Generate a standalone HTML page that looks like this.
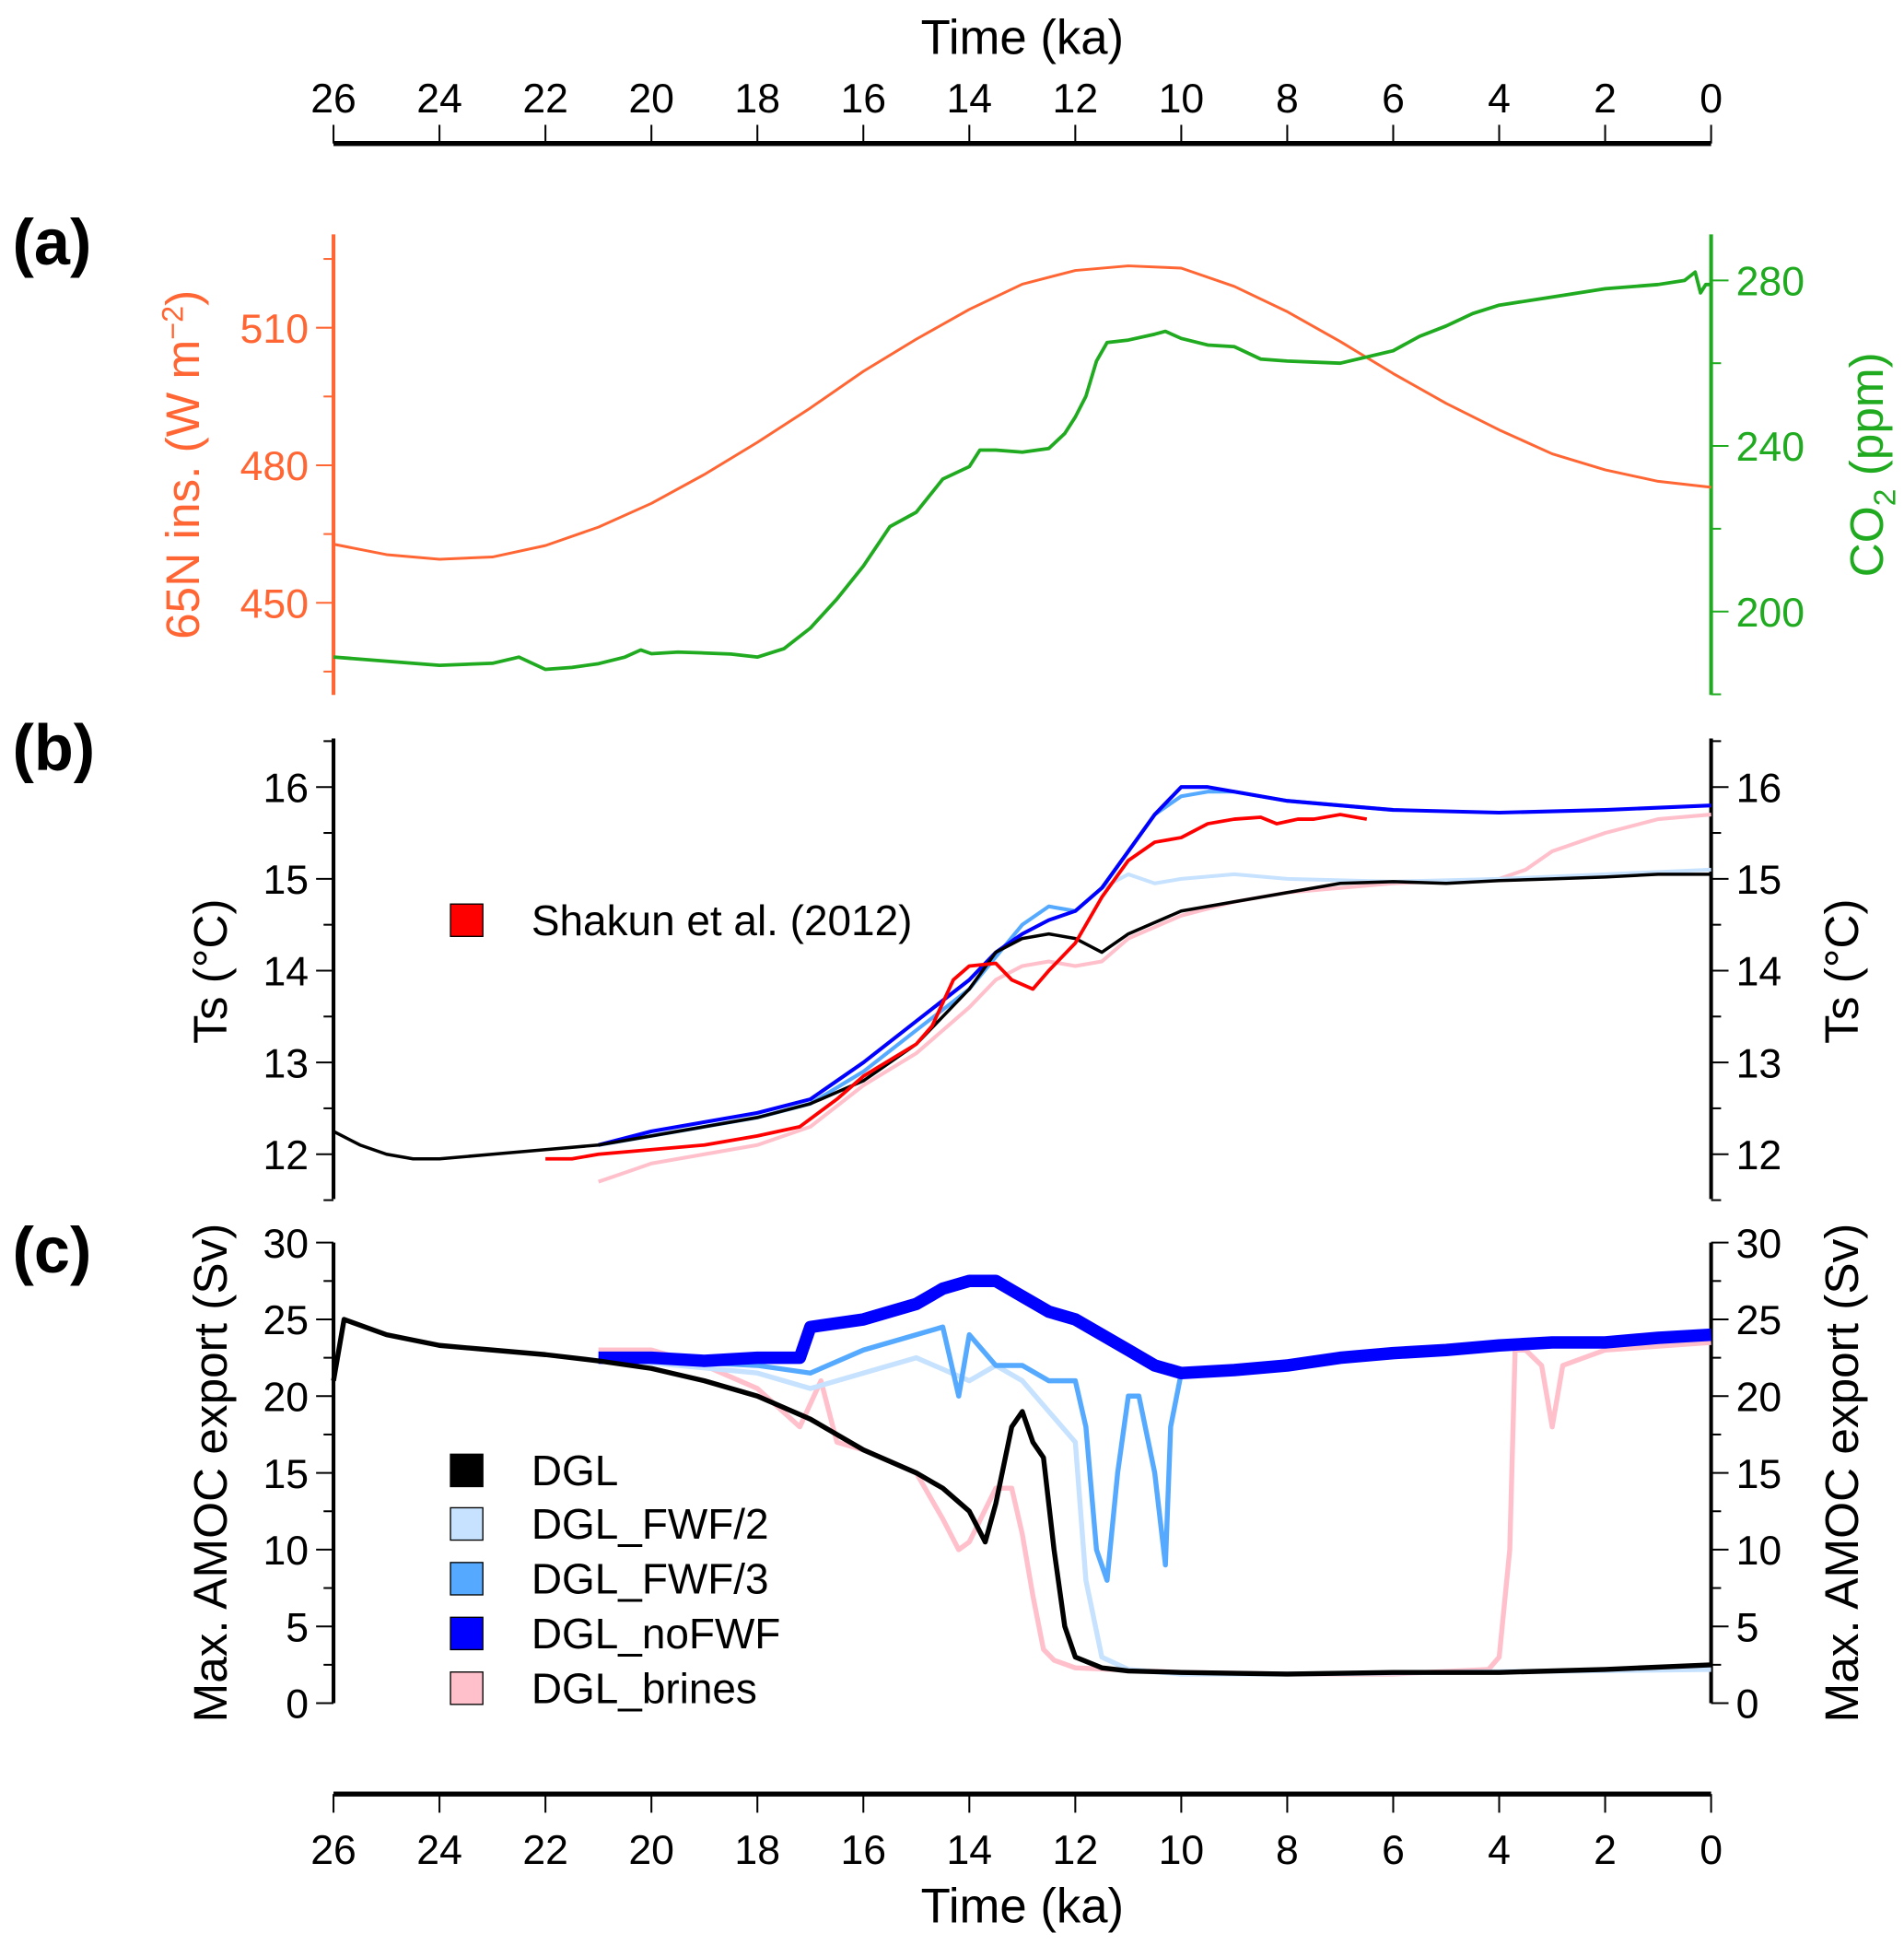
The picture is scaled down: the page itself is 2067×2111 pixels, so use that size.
<!DOCTYPE html>
<html><head><meta charset="utf-8"><style>
html,body{margin:0;padding:0;background:#fff}
svg{display:block;font-family:"Liberation Sans",Arial,sans-serif}
</style></head><body>
<svg id="fig" width="2067" height="2111" viewBox="0 0 1530 1562" xmlns="http://www.w3.org/2000/svg">
<g id="root"></g>
</svg>
<script>
// ---- data ----
const insT=[26,25,24,23,22,21,20,19,18,17,16,15,14,13,12,11,10,9,8,7,6,5,4,3,2,1,0];
const insV=[462.8,460.5,459.5,460,462.5,466.5,471.7,478,485,492.5,500.5,507.5,514,519.5,522.5,523.5,523,519,513.5,507,500,493.5,487.7,482.5,479,476.5,475.2];
const co2T=[26,24,23,22.5,22,21.5,21,20.5,20.2,20,19.5,19,18.5,18,17.5,17,16.5,16,15.5,15,14.5,14,13.8,13.5,13,12.5,12.2,12,11.8,11.6,11.4,11,10.5,10.3,10,9.5,9,8.5,8,7,6.5,6,5.5,5,4.5,4,3,2,1,0.5,0.3,0.2,0.1,0];
const co2V=[189,187,187.5,189,186,186.5,187.4,189,190.7,189.8,190.2,190,189.7,189,191,196,203,211,220.5,224,232,235,239,239,238.5,239.4,243,247,252,260.5,265,265.6,267,267.7,266,264.4,264,261,260.5,260,261.5,263,266.5,269,272,274,276,278,279,280,282,277,279,279];
const shT=[22,21.5,21,20,19,18,17.2,16.5,16,15,14.7,14.3,14,13.5,13.2,12.8,12.5,12,11.5,11,10.5,10,9.5,9,8.5,8.2,7.8,7.5,7,6.5];
const shV=[11.95,11.95,12.0,12.05,12.1,12.2,12.3,12.6,12.85,13.2,13.4,13.9,14.05,14.08,13.9,13.8,14.0,14.3,14.8,15.2,15.4,15.45,15.6,15.65,15.67,15.6,15.65,15.65,15.7,15.65];
const tsDglT=[26,25.5,25,24.5,24,23,22,21,20,19,18,17,16,15,14,13.5,13,12.5,12,11.5,11,10,9,8,7,6,5,4,3,2,1,0];
const tsDglV=[12.25,12.1,12.0,11.95,11.95,12.0,12.05,12.1,12.2,12.3,12.4,12.55,12.8,13.2,13.8,14.2,14.35,14.4,14.35,14.2,14.4,14.65,14.75,14.85,14.95,14.97,14.95,14.98,15.0,15.02,15.05,15.05];
const tsNoT=[21,20,19,18,17,16,15,14,13.5,13,12.5,12,11.5,11,10.5,10,9.5,9,8,7,6,4,2,0];
const tsNoV=[12.1,12.25,12.35,12.45,12.6,13.0,13.45,13.9,14.2,14.4,14.55,14.65,14.9,15.3,15.7,16.0,16.0,15.95,15.85,15.8,15.75,15.72,15.75,15.8];
const tsF3T=[21,18,17,16,15,14,13,12.5,12,11.5,11,10.5,10,9.5,9,8,7,6];
const tsF3V=[12.1,12.4,12.55,12.9,13.35,13.8,14.5,14.7,14.65,14.9,15.3,15.7,15.9,15.95,15.95,15.85,15.8,15.75];
const tsF2T=[21,18,17,16,15,14,13,12.5,12,11.5,11,10.5,10,9,8,6,4,2,0];
const tsF2V=[12.1,12.4,12.55,12.9,13.35,13.8,14.5,14.7,14.65,14.9,15.05,14.95,15.0,15.05,15.0,14.97,15.0,15.05,15.1];
const tsBrT=[21,20.5,20,19,18,17,16,15,14,13.5,13,12.5,12,11.5,11,10,9,8,6,4,3.5,3,2,1,0];
const tsBrV=[11.7,11.8,11.9,12.0,12.1,12.3,12.75,13.1,13.6,13.9,14.05,14.1,14.05,14.1,14.35,14.6,14.75,14.85,14.95,15.0,15.1,15.3,15.5,15.65,15.7];
const amDglT=[26,25.8,25,24,23,22,21,20,19,18,17,16,15,14.5,14,13.7,13.5,13.2,13,12.8,12.6,12.4,12.2,12,11.5,11,10,8,6,4,2,0];
const amDglV=[21,25,24,23.3,23,22.7,22.3,21.8,21,20,18.5,16.5,15,14,12.5,10.5,13,18,19,17,16,10,5,3,2.3,2.1,2.0,1.9,2.0,2.0,2.2,2.5];
const amNoT=[21,20,19,18,17.2,17,16,15,14.5,14,13.5,13,12.5,12,11.5,11,10.5,10,9,8,7,6,5,4,3,2,1,0];
const amNoV=[22.5,22.5,22.3,22.5,22.5,24.5,25,26,27,27.5,27.5,26.5,25.5,25,24,23,22,21.5,21.7,22,22.5,22.8,23,23.3,23.5,23.5,23.8,24];
const amF3T=[21,18,17,16,15,14.5,14.2,14,13.5,13,12.5,12,11.8,11.6,11.4,11.2,11,10.8,10.5,10.3,10.2,10,9.5];
const amF3V=[22.5,22,21.5,23,24,24.5,20,24,22,22,21,21,18,10,8,15,20,20,15,9,18,21.5,21.7];
const amF2T=[21,18,17,16,15,14,13.5,13,12.5,12,11.8,11.5,11,10,8,0];
const amF2V=[22.5,21.5,20.5,21.5,22.5,21,22,21,19,17,8,3,2.2,1.9,1.9,2.2];
const amBrT=[21,20,19,18,17.2,16.8,16.5,16,15,14.5,14.2,14,13.5,13.2,13,12.8,12.6,12.4,12,10,8,6,4.2,4,3.8,3.7,3.5,3.2,3,2.8,2,0];
const amBrV=[23,23,22,20.5,18,21,17,16.5,15,12,10,10.5,14,14,11,7,3.5,2.8,2.3,2,1.9,1.9,2.2,3,10,23,23,22,18,22,23,23.5];
const xTicks=[26,24,22,20,18,16,14,12,10,8,6,4,2,0];

// ---- layout ----
const NS='http://www.w3.org/2000/svg';
const root=document.getElementById('root');
const X0=268,X1=1375;
const x=t=>X0+(26-t)/26*(X1-X0);
function lin(v0,y0,v1,y1){return v=>y0+(v-v0)/(v1-v0)*(y1-y0);}
const yIns=lin(510,263,450,484), yCo2=lin(280,225,200,491), yTs=lin(16,632,12,927), yAm=lin(30,998,0,1368);
function mk(tag,attrs,parent){const e=document.createElementNS(NS,tag);for(const k in attrs)e.setAttribute(k,attrs[k]);(parent||root).appendChild(e);return e;}
function txt(s,attrs){const e=mk('text',attrs);e.textContent=s;return e;}
function series(T,V,yf,color,w,name){
  let d='';T.forEach((t,i)=>{d+=(i?'L':'M')+x(t).toFixed(1)+','+yf(V[i]).toFixed(1);});
  const p=mk('path',{d:d,fill:'none',stroke:color,'stroke-width':w,'stroke-linejoin':'round'});
  
  
}
function line(x1,y1,x2,y2,c,w){return mk('line',{x1,y1,x2,y2,stroke:c,'stroke-width':w});}

function timeAxis(y,dir,labelY,titleY,name){
  const g=line(X0,y,X1,y,'#000',4);
  
  
  xTicks.forEach(t=>{line(x(t),y,x(t),y+dir*15,'#000',1.5);
    const l=txt(String(t),{x:x(t),y:labelY,'font-size':33,'text-anchor':'middle'});
    
    });
  const tt=txt('Time (ka)',{x:(X0+X1)/2,y:titleY,'font-size':39,'text-anchor':'middle'});
  
  
}
timeAxis(115,-1,90,43,'top-time-axis');
timeAxis(1441,1,1497,1544,'bottom-time-axis');

function yAxis(xp,yTop,yBot,yf,major,minor,color,side,name){
  const a=line(xp,yTop,xp,yBot,color,3);
  
  
  minor.forEach(v=>line(xp,yf(v),xp+side*8,yf(v),color,1.5));
  major.forEach(v=>{line(xp,yf(v),xp+side*14,yf(v),color,1.5);
    const l=txt(String(v),{x:xp+side*20,y:yf(v)+12,'font-size':33,fill:color,'text-anchor':side<0?'end':'start'});
    
    });
}
function vtitle(s,cx,cy,color,name){
  const e=txt('',{transform:`translate(${cx},${cy}) rotate(-90)`,'font-size':38,fill:color,'text-anchor':'middle'});
  e.innerHTML=s;
  
  
}
const OR='#ff6633',GR='#1faa1f';
yAxis(X0,188,558,yIns,[510,480,450],[525,495,465,435],OR,-1,'insolation-axis');
yAxis(X1,188,558,yCo2,[280,240,200],[260,220,180],GR,1,'co2-axis');
vtitle('65N ins. (W m<tspan dy="-13" font-size="24">−2</tspan><tspan dy="13">)</tspan>',160,373,OR,'insolation-axis-title');
vtitle('CO<tspan dy="10" font-size="25">2</tspan><tspan dy="-10"> (ppm)</tspan>',1513,373,GR,'co2-axis-title');
series(insT,insV,yIns,OR,2.2,'insolation-line');
series(co2T,co2V,yCo2,GR,2.8,'co2-line');
const tsMaj=[16,15,14,13,12],tsMin=[16.5,15.5,14.5,13.5,12.5,11.5];
yAxis(X0,593,963,yTs,tsMaj,tsMin,'#000',-1,'ts-left-axis');
yAxis(X1,593,963,yTs,tsMaj,tsMin,'#000',1,'ts-right-axis');
vtitle('Ts (°C)',182,780,'#000','ts-left-title');
vtitle('Ts (°C)',1493,780,'#000','ts-right-title');
series(tsBrT,tsBrV,yTs,'#ffc0cb',3,'ts-dgl-brines');
series(tsF2T,tsF2V,yTs,'#c6e2ff',3,'ts-dgl-fwf2');
series(tsF3T,tsF3V,yTs,'#55aaff',3,'ts-dgl-fwf3');
series(tsNoT,tsNoV,yTs,'#0000ff',3,'ts-dgl-nofwf');
series(tsDglT,tsDglV,yTs,'#000',2.6,'ts-dgl');
series(shT,shV,yTs,'#ff0000',2.8,'ts-shakun-2012');
yAxis(X0,998,1368,yAm,[30,25,20,15,10,5,0],[27.5,22.5,17.5,12.5,7.5,2.5],'#000',-1,'amoc-left-axis');
yAxis(X1,998,1368,yAm,[30,25,20,15,10,5,0],[27.5,22.5,17.5,12.5,7.5,2.5],'#000',1,'amoc-right-axis');
vtitle('Max. AMOC export (Sv)',182,1183,'#000','amoc-left-title');
vtitle('Max. AMOC export (Sv)',1493,1183,'#000','amoc-right-title');
series(amBrT,amBrV,yAm,'#ffc0cb',4,'amoc-dgl-brines');
series(amF2T,amF2V,yAm,'#c6e2ff',4,'amoc-dgl-fwf2');
series(amF3T,amF3V,yAm,'#55aaff',4,'amoc-dgl-fwf3');
series(amNoT,amNoV,yAm,'#0000ff',10,'amoc-dgl-nofwf');
series(amDglT,amDglV,yAm,'#000',4,'amoc-dgl');
[['(a)',212],['(b)',618],['(c)',1022]].forEach(([s,y])=>{const e=txt(s,{x:10,y:y,'font-size':52,'font-weight':'bold'});
  
  });
function legend(label,color,yc){
  const r=mk('rect',{x:362,y:yc-13,width:26,height:26,fill:color,stroke:'#000','stroke-width':1});
  
  
  const t=txt(label,{x:427,y:yc+12,'font-size':34});
  
  
}
legend('Shakun et al. (2012)','#ff0000',739);
legend('DGL','#000',1181);
legend('DGL_FWF/2','#c6e2ff',1224);
legend('DGL_FWF/3','#55aaff',1268);
legend('DGL_noFWF','#0000ff',1312);
legend('DGL_brines','#ffc0cb',1356);
</script>
</body></html>
